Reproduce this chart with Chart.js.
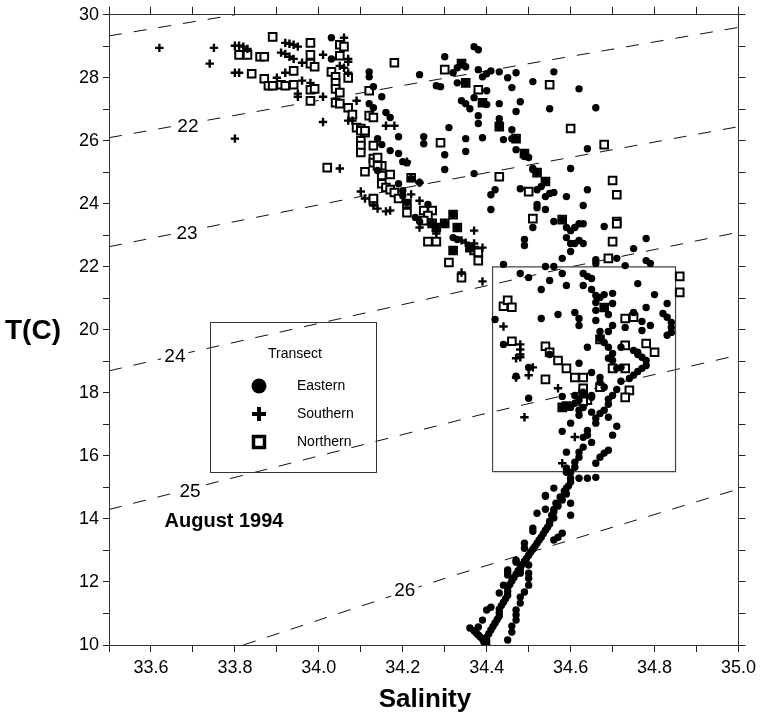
<!DOCTYPE html>
<html>
<head>
<meta charset="utf-8">
<script src="https://cdn.jsdelivr.net/npm/chart.js@4.4.1/dist/chart.umd.min.js"></script>
<style>
html,body{margin:0;padding:0;background:#fff;}
canvas{display:block;}
</style>
</head>
<body>
<canvas id="c" width="761" height="724"></canvas>
<script>
// ---------- DATA (salinity, temperature °C) ----------
const eastern = [
[34.03,29.27],[34.03,28.6],[34.12,28.19],[34.12,28.03],[34.13,27.72],[34.15,27.4],[34.12,27.18],[34.13,27.05],[34.16,26.9],[34.17,26.74],
[34.19,26.13],[34.14,26.07],[34.15,25.88],[34.17,25.69],[34.19,25.6],[34.2,25.34],[34.21,25.3],[34.14,25.06],[34.22,24.8],[34.19,24.64],
[34.2,24.42],[34.2,24.26],[34.21,24.04],[34.26,23.98],[34.23,23.57],[34.24,23.44],[34.32,22.93],[34.33,22.87],
[34.24,28.1],[34.3,28.67],[34.28,27.75],[34.37,28.99],[34.38,28.89],[34.33,28.32],[34.32,28.16],[34.33,27.84],[34.34,28.45],[34.35,28.35],
[34.35,27.84],[34.39,28.03],[34.4,28.13],[34.41,28.22],[34.4,27.59],[34.38,28.26],[34.43,28.19],[34.45,28.0],[34.47,28.16],[34.51,27.88],
[34.56,28.19],[34.62,27.65],[34.29,27.72],[34.34,27.27],[34.35,27.18],[34.37,27.37],[34.39,27.21],[34.4,27.15],[34.43,27.18],[34.46,27.69],
[34.48,27.24],[34.36,27.02],[34.47,26.93],[34.55,27.02],[34.66,27.05],[34.38,26.8],[34.38,26.55],[34.43,26.7],[34.43,26.55],[34.43,26.45],
[34.46,26.35],[34.31,26.42],[34.25,26.13],[34.25,25.91],[34.35,26.07],[34.39,26.1],[34.44,26.04],[34.46,26.07],[34.47,26.07],[34.64,25.75],
[34.35,25.66],[34.3,25.56],[34.47,25.72],[34.49,25.5],[34.49,25.6],[34.5,25.47],[34.3,25.09],[34.37,24.96],[34.51,25.12],[34.51,25.09],
[34.52,24.99],[34.6,25.12],[34.24,24.68],[34.42,24.45],[34.41,24.29],[34.48,24.48],[34.53,24.55],[34.52,24.45],[34.54,24.71],[34.54,24.23],
[34.55,24.33],[34.56,24.36],[34.59,24.23],[34.64,24.45],[34.41,23.82],[34.52,23.98],[34.52,23.88],[34.54,23.82],[34.63,23.95],[34.56,23.44],
[34.58,23.5],[34.59,23.25],[34.6,23.15],[34.61,23.25],[34.62,23.37],[34.63,23.37],[34.68,23.28],[34.51,23.25],[34.59,22.93],[34.6,22.74],
[34.61,22.74],[34.62,22.84],[34.63,22.74],[34.49,22.87],[34.49,22.68],[34.78,22.9],[34.75,22.58],[34.6,22.49],[34.58,22.27],[34.66,22.23],
[34.66,22.11],[34.71,22.27],[34.78,22.2],[34.79,22.11],[34.44,22.08],[34.54,22.01],[34.56,22.01],[34.73,22.04],
[34.32,23.66],[34.3,23.38],[34.27,23.38],[34.28,23.25],[34.33,23.25],[34.32,22.52],[34.36,22.61],
[34.48,21.79],[34.5,21.66],[34.55,21.57],[34.58,21.79],[34.63,21.79],[34.64,21.7],[34.65,21.63],[34.53,21.28],[34.59,21.41],[34.63,21.41],
[34.65,21.28],[34.66,21.09],[34.67,21.03],[34.68,21.12],[34.7,21.16],[34.76,21.47],[34.8,21.12],[34.42,20.33],[34.66,20.87],[34.66,20.62],
[34.68,20.71],[34.7,20.84],[34.78,20.71],[34.83,20.84],[34.57,20.49],[34.53,20.36],[34.61,20.55],[34.62,20.36],[34.62,20.14],[34.66,20.3],
[34.69,20.49],[34.75,20.55],[34.77,20.27],[34.79,20.14],[34.82,20.52],[34.83,20.4],[34.84,20.24],[34.84,20.08],[34.84,19.92],[34.83,19.83],
[34.73,20.08],[34.77,19.98],[34.7,20.14],[34.69,19.95],[34.67,19.95],[34.67,19.73],[34.44,19.54],[34.55,19.22],[34.5,18.81],[34.64,19.45],
[34.62,18.94],[34.65,18.65],[34.68,19.6],[34.69,19.45],[34.7,19.25],[34.69,19.1],[34.7,19.03],[34.72,19.45],[34.75,19.35],[34.76,19.29],
[34.76,19.22],[34.77,19.13],[34.78,19.03],[34.78,18.87],[34.77,18.78],[34.76,18.68],[34.71,18.78],[34.72,18.81],[34.75,18.56],[34.74,18.46],
[34.72,18.37],[34.67,18.49],[34.67,18.34],[34.68,18.18],[34.47,18.53],[34.71,18.11],[34.7,17.92],[34.69,17.8],[34.69,17.64],[34.68,17.45],
[34.67,17.35],[34.66,17.2],[34.63,18.02],[34.65,17.92],[34.65,17.86],[34.59,17.58],[34.58,17.54],[34.58,17.89],[34.61,17.92],[34.62,17.77],
[34.61,17.67],[34.6,17.54],[34.62,17.45],[34.63,17.54],[34.5,17.83],[34.62,17.29],[34.65,17.39],[34.66,17.04],[34.69,17.23],[34.6,17.04],
[34.58,16.78],[34.71,16.94],[34.7,16.66],[34.64,16.81],[34.64,16.66],[34.63,16.59],[34.65,16.43],[34.63,16.28],[34.62,16.12],[34.62,15.96],
[34.61,15.8],[34.61,15.64],[34.6,15.48],[34.69,16.18],[34.68,16.09],[34.67,15.96],[34.59,16.12],[34.59,15.61],[34.59,15.48],[34.66,15.77],
[34.66,15.32],
[34.6,15.29],[34.64,15.29],[34.62,15.29],[34.6,15.17],[34.59,14.98],[34.59,14.79],[34.58,14.6],[34.57,14.41],[34.56,14.22],[34.56,14.03],
[34.55,13.84],[34.54,13.64],[34.53,13.42],[34.52,13.23],[34.51,13.04],[34.5,12.85],[34.49,12.66],[34.48,12.47],[34.47,12.25],[34.46,12.03],
[34.45,11.81],[34.45,11.58],[34.44,11.36],[34.43,11.14],[34.43,10.92],[34.42,10.7],[34.41,10.48],[34.4,10.25],[34.4,10.03],
[34.595,15.05],[34.585,14.88],[34.575,14.7],[34.565,14.5],[34.56,14.3],[34.555,14.12],[34.55,13.93],[34.545,13.74],[34.535,13.53],[34.525,13.33],
[34.515,13.13],[34.505,12.95],[34.495,12.75],[34.485,12.56],[34.475,12.36],[34.465,12.14],[34.455,11.92],[34.45,11.7],[34.445,11.47],[34.435,11.25],
[34.43,11.03],[34.425,10.81],[34.415,10.59],[34.405,10.36],[34.4,10.14],
[34.36,10.54],[34.37,10.45],[34.375,10.38],[34.38,10.32],[34.385,10.25],[34.39,10.19],[34.393,10.1],[34.397,10.05],
[34.43,11.65],[34.4,11.11],[34.41,11.2],[34.39,10.79],[34.38,10.57],[34.44,11.9],[34.45,12.22],[34.45,12.31],[34.47,12.69],[34.45,12.38],
[34.49,13.23],[34.49,13.07],[34.51,13.71],[34.51,13.61],[34.52,14.18],[34.54,14.31],[34.56,14.98],[34.54,14.72],[34.54,14.75],
[34.6,14.5],[34.6,14.12],[34.58,13.55],[34.57,13.42],[34.56,13.33],[34.5,12.28],[34.5,12.54],[34.48,12.28],[34.48,12.38],[34.47,12.63],
[34.5,12.12],[34.5,11.9],[34.49,11.68],[34.48,11.52],[34.48,11.33],[34.47,11.11],[34.47,10.95],[34.47,10.79],[34.46,10.6],[34.46,10.41],[34.45,10.16]
];

const southern = [
[33.62,28.95],[33.75,28.95],[33.74,28.45],[33.8,29.02],[33.81,29.02],[33.82,28.99],[33.83,28.92],[33.8,28.16],[33.81,28.16],[33.92,29.11],
[33.93,29.08],[33.94,29.05],[33.95,28.99],[33.91,28.8],[33.92,28.76],[33.93,28.67],[33.94,28.6],[33.96,28.48],[34.01,28.73],[33.92,28.16],
[33.9,28.0],[33.96,27.91],[33.98,27.84],[33.95,27.5],[33.95,27.4],[34.01,26.6],[33.8,26.07],[34.05,25.12],[34.1,24.39],[34.11,24.17],
[34.13,23.95],[34.14,23.85],[34.16,23.76],[34.06,29.27],[34.07,28.6],[34.05,28.38],[34.06,28.32],[34.07,28.16],[34.07,28.51],[34.16,26.48],
[34.18,26.48],[34.21,25.34],[34.24,24.67],[34.22,24.3],[34.24,24.1],[34.17,23.79],[34.24,23.25],[34.28,23.06],[34.37,23.15],[34.34,22.84],
[34.35,22.77],[34.37,22.74],[34.39,22.61],[34.34,21.82],[34.39,21.54],[34.44,20.11],[34.48,19.54],[34.48,19.38],[34.48,19.22],[34.47,19.1],
[34.48,19.13],[34.51,18.81],[34.5,18.56],[34.47,18.49],[34.57,18.15],[34.49,17.23],[34.61,16.6],[34.58,15.77],[34.07,26.64],[34.08,26.64],
[34.01,27.4],[34.09,27.27]
];

const northern = [
[33.81,28.73],[33.83,28.73],[33.86,28.67],[33.87,28.67],[33.84,28.13],[33.87,27.97],[33.88,27.75],[33.89,27.75],[33.89,29.3],[33.98,29.11],
[33.98,28.73],[33.98,28.45],[33.99,28.35],[33.94,28.22],[33.91,27.78],[33.92,27.75],[33.94,27.78],[33.98,27.62],[33.99,27.65],[33.98,27.27],
[34.02,25.15],[34.11,25.02],[34.13,24.1],[34.05,29.05],[34.06,28.99],[34.05,28.7],[34.03,28.19],[34.04,28.03],[34.07,28.0],[34.18,28.48],
[34.3,28.26],[34.29,25.94],[34.38,27.62],[34.43,24.86],[34.09,26.42],[34.1,26.39],[34.11,26.26],[34.1,26.0],[34.1,25.85],[34.1,25.63],
[34.13,25.85],[34.13,25.44],[34.13,25.31],[34.15,25.21],[34.15,24.9],[34.17,24.93],[34.22,24.83],[34.15,24.64],[34.16,24.52],[34.17,24.45],
[34.18,24.36],[34.19,24.17],[34.13,24.17],[34.21,24.01],[34.21,23.72],[34.25,23.79],[34.27,23.79],[34.26,23.63],[34.25,23.47],[34.26,22.8],
[34.28,22.8],[34.37,22.52],[34.38,22.46],[34.31,22.14],[34.34,21.66],[34.38,22.2],[34.04,27.84],[34.04,27.65],[34.05,27.53],[34.04,27.21],
[34.05,27.18],[34.07,27.05],[34.08,26.83],[34.1,26.32],[34.11,26.32],[34.12,27.59],[34.12,26.8],[34.13,26.74],[34.14,25.47],[34.14,25.21],
[34.32,23.66],[34.3,23.38],[34.27,23.38],[34.28,23.25],[34.33,23.25],[34.32,22.52],[34.36,22.61],[34.34,28.45],[34.35,27.84],[34.39,27.21],
[34.43,26.45],[34.47,26.07],[34.49,25.6],[34.52,24.99],[34.54,24.71],[34.58,23.5],[34.68,20.71],[34.67,19.7],[34.7,18.78],[34.63,18.02],
[34.59,17.58],
[34.55,27.78],[34.6,26.39],[34.68,25.88],[34.5,24.39],[34.7,24.74],[34.71,24.29],[34.51,23.53],[34.71,23.44],[34.71,23.37],[34.7,22.8],
[34.69,22.27],[34.86,21.7],[34.86,21.19],[34.44,20.75],[34.45,20.94],[34.46,20.72],[34.73,20.36],[34.75,20.4],[34.46,19.64],[34.54,19.48],
[34.55,19.29],[34.57,19.03],[34.59,18.78],[34.54,18.43],[34.73,19.51],[34.78,19.57],[34.8,19.29],[34.73,18.78],[34.61,18.49],[34.63,18.49],
[34.67,18.18],[34.74,18.08],[34.73,17.86],[34.63,18.15],[34.64,17.77],[34.63,17.73],[34.58,17.54]
];

// sigma-t isopycnals (salinity, temperature) polylines
const sigma21 = [[33.5,29.33],[33.8,30.0]];
const sigma22 = [[33.5,26.1],[34.24,27.85],[35.0,29.6]];
const sigma23 = [[33.5,22.64],[34.2,24.5],[35.0,26.45]];
const sigma24 = [[33.5,18.7],[33.66,19.19],[34.6,22.0],[35.0,23.1]];
const sigma25 = [[33.5,14.3],[34.38,17.29],[35.0,19.2]];
const sigma26 = [[33.82,10.0],[34.32,12.2],[35.0,14.95]];
const sigmaLabels = ['22','23','24','25','26'];
const sigmaLabelSal = [33.688,33.686,33.657,33.693,34.205];
const sigmaLabelTemp = [26.48,23.08,19.19,14.91,11.74];

// inset box (salinity range, temperature range)
const insetSal = [34.414, 34.85];
const insetTemp = [15.5, 22.0];

const xTickMin = 33.5, xTickMax = 35.0, xStep = 0.1;
const yTickMin = 10, yTickMax = 30, yStep = 1;

const legendTitle = 'Transect';
const seriesNames = ['Eastern','Southern','Northern'];
const panelTitle = 'August 1994';
const xTitle = 'Salinity';
const yTitle = 'T(C)';

// ---------- CHART ----------
const FONT = '"Liberation Sans", Arial, Helvetica, sans-serif';
const toXY = arr => arr.map(p => ({x: p[0], y: p[1]}));
const sigmaSets = [sigma21, sigma22, sigma23, sigma24, sigma25, sigma26].map(s => ({
  type: 'scatter', data: toXY(s), showLine: true, borderColor: '#111', borderWidth: 1,
  borderDash: [13, 12], pointRadius: 0, fill: false, order: 10
}));
const insetData = [
  {x: insetSal[0], y: insetTemp[0]}, {x: insetSal[0], y: insetTemp[1]},
  {x: insetSal[1], y: insetTemp[1]}, {x: insetSal[1], y: insetTemp[0]},
  {x: insetSal[0], y: insetTemp[0]}
];

const annot = {
  id: 'annot',
  afterDatasetsDraw(chart) {
    const {ctx, scales: {x, y}} = chart;
    ctx.save();
    // isopycnal labels
    ctx.font = '19px ' + FONT;
    ctx.textAlign = 'center';
    ctx.textBaseline = 'middle';
    sigmaLabels.forEach((t, i) => {
      const px = x.getPixelForValue(sigmaLabelSal[i]);
      const py = y.getPixelForValue(sigmaLabelTemp[i]);
      const w = ctx.measureText(t).width;
      ctx.fillStyle = '#fff';
      ctx.fillRect(px - w / 2 - 3, py - 9, w + 6, 18);
      ctx.fillStyle = '#000';
      ctx.fillText(t, px, py + 1);
    });
    // legend box
    ctx.strokeStyle = '#333';
    ctx.lineWidth = 1;
    ctx.strokeRect(210.5, 322.5, 166, 150);
    ctx.fillStyle = '#000';
    ctx.font = '14px ' + FONT;
    ctx.textAlign = 'center';
    ctx.fillText(legendTitle, 295, 354);
    // symbols
    ctx.beginPath(); ctx.arc(259, 386, 7.5, 0, Math.PI * 2); ctx.fill();
    ctx.fillRect(252, 412, 14, 4); ctx.fillRect(257, 407, 4, 14);
    ctx.lineWidth = 3.5; ctx.strokeStyle = '#000';
    ctx.strokeRect(253.5, 436.5, 11, 11);
    ctx.textAlign = 'left';
    ctx.fillText(seriesNames[0], 297, 386);
    ctx.fillText(seriesNames[1], 297, 414);
    ctx.fillText(seriesNames[2], 297, 442);
    // titles
    ctx.textAlign = 'center';
    ctx.font = 'bold 20px ' + FONT;
    ctx.fillText(panelTitle, 224, 521);
    ctx.font = 'bold 26px ' + FONT;
    ctx.fillText(xTitle, 425, 700);
    ctx.font = 'bold 28px ' + FONT;
    ctx.fillText(yTitle, 33, 331);
    ctx.restore();
  }
};

const tickGrid = len => ({drawOnChartArea: false, drawTicks: true, tickLength: len, color: '#222', tickColor: '#222', lineWidth: 1});
const border = {display: true, color: '#333', width: 1};

new Chart(document.getElementById('c'), {
  type: 'scatter',
  data: {
    datasets: [
      {label: seriesNames[0], data: toXY(eastern), pointStyle: 'circle', pointRadius: 3.7,
       backgroundColor: '#000', borderColor: '#000', borderWidth: 0, order: 1},
      {label: seriesNames[1], data: toXY(southern), pointStyle: 'cross', pointRadius: 4.2,
       borderColor: '#000', borderWidth: 2.4, order: 2},
      {label: seriesNames[2], data: toXY(northern), pointStyle: 'rect', pointRadius: 5.4,
       backgroundColor: '#fff', borderColor: '#000', borderWidth: 2, order: 3},
      ...sigmaSets,
      {data: insetData, showLine: true, borderColor: '#444', borderWidth: 1.2, pointRadius: 0, order: 9}
    ]
  },
  options: {
    responsive: false,
    devicePixelRatio: 1,
    animation: false,
    layout: {padding: 0},
    plugins: {legend: {display: false}, tooltip: {enabled: false}},
    scales: {
      x: {
        type: 'linear', position: 'bottom', min: xTickMin, max: xTickMax,
        ticks: {stepSize: xStep, autoSkip: false, maxRotation: 0, color: '#000', padding: 5,
          font: {family: FONT, size: 18},
          callback: v => (Math.round(v * 10) % 2 === 0 ? v.toFixed(1) : '')},
        grid: tickGrid(7), border: border,
        afterFit: s => { s.height = 79; }
      },
      x2: {
        type: 'linear', axis: 'x', position: 'top', min: xTickMin, max: xTickMax,
        ticks: {stepSize: xStep, autoSkip: false, display: false},
        grid: tickGrid(8), border: border,
        afterFit: s => { s.height = 14; }
      },
      y: {
        type: 'linear', position: 'left', min: yTickMin, max: yTickMax,
        ticks: {stepSize: yStep, autoSkip: false, color: '#000', padding: 4,
          font: {family: FONT, size: 18},
          callback: v => (Math.round(v) % 2 === 0 ? String(v) : '')},
        grid: tickGrid(6), border: border,
        afterFit: s => { s.width = 109; }
      },
      y2: {
        type: 'linear', axis: 'y', position: 'right', min: yTickMin, max: yTickMax,
        ticks: {stepSize: yStep, autoSkip: false, display: false},
        grid: tickGrid(7), border: border,
        afterFit: s => { s.width = 22; }
      }
    }
  },
  plugins: [annot]
});
</script>
</body>
</html>
